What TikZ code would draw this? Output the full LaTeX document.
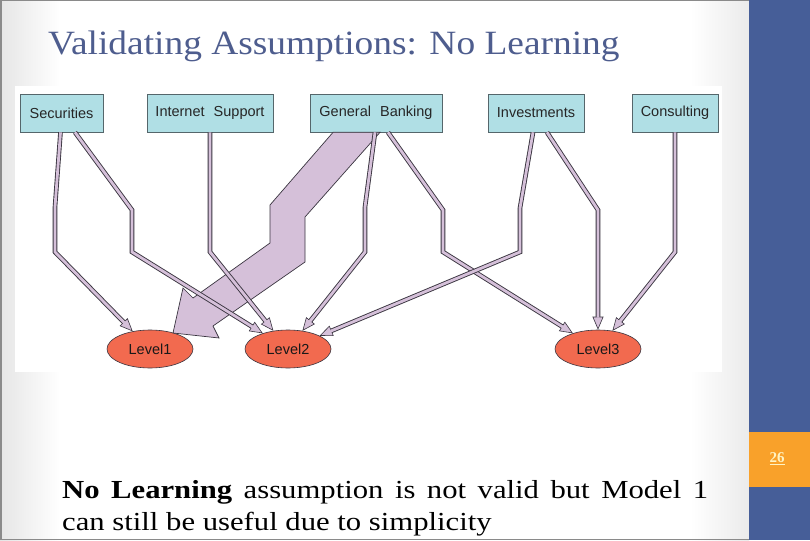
\documentclass[tikz,border=0pt]{standalone}
\usepackage{fontspec}
\setmainfont{Liberation Serif}
\newfontfamily\diagfont{Liberation Sans}
\newfontfamily\titlefont[FakeStretch=1.1]{Liberation Serif}
\newfontfamily\bodyfont[FakeStretch=1.18]{Liberation Serif}
\usetikzlibrary{shapes.geometric,arrows.meta,calc}
\definecolor{boxfill}{HTML}{B0DFE5}
\definecolor{boxline}{HTML}{55666B}
\definecolor{lvlfill}{HTML}{F26A4F}
\definecolor{lav}{HTML}{D5C0D9}
\definecolor{edgeline}{HTML}{3A3540}
\definecolor{barblue}{HTML}{465E98}
\definecolor{barorange}{HTML}{F9A12A}
\definecolor{titleblue}{HTML}{4E5D8E}
\definecolor{numcream}{HTML}{FFF3C4}
\definecolor{slideedge}{HTML}{8A8A8A}
\begin{document}
\begin{tikzpicture}[x=1pt,y=-1pt,
  catbox/.style={draw=boxline, line width=0.7pt, fill=boxfill, minimum height=38pt,
    inner sep=0pt, font=\diagfont\fontsize{14.5}{16}\selectfont, text=black!85},
  lvl/.style={ellipse, draw=edgeline, line width=0.6pt, fill=lvlfill, minimum width=86pt,
    minimum height=38pt, inner sep=0pt, font=\diagfont\fontsize{14.5}{16}\selectfont, text=black!90},
  tipstyle/.style={-{Triangle[length=13pt,width=11pt,line width=0.6pt,fill=lav]}},
  dbl/.style={draw=edgeline, line width=0.6pt, tipstyle, line join=miter,
    preaction={draw=edgeline, line width=4.6pt, -, shorten >=12pt},
    postaction={draw=lav, line width=2.8pt, -, shorten >=12pt}},
  widearrow/.style={fill=lav, draw=edgeline, line width=0.7pt, line join=miter}
]
\useasboundingbox (0,0) rectangle (810,540);
% slide background
\fill[white] (0,0) rectangle (749,540);
\shade[left color=black!10, right color=white] (0,0) rectangle (60,540);
\shade[left color=white, right color=black!8] (690,0) rectangle (749,540);
\fill[white] (15,86) rectangle (722,372);
\fill[slideedge] (0,0) rectangle (2,540);
\fill[slideedge] (0,0) rectangle (749,1.2);
\fill[slideedge] (0,538.5) rectangle (749,540);
% right bar
\fill[barblue] (749,0) rectangle (810,540);
\fill[barorange] (749,432) rectangle (810,487);
\node[font=\bfseries\fontsize{15}{17}\selectfont, text=numcream] (pnum) at (777,459) {\underline{26}};
% title
\node[anchor=base west, inner sep=0pt, font=\titlefont\fontsize{34}{40}\selectfont, text=titleblue] (title) at (48,55) {Validating Assumptions: No Learning};

% category boxes
\node[catbox, minimum width=83pt] (sec) at (61.5,113) {Securities};
\node[catbox, minimum width=126pt] (int) at (210,113) {Internet\hspace{0.35em} Support};
\node[catbox, minimum width=132pt] (gb) at (376,113) {General\hspace{0.35em} Banking};
\node[catbox, minimum width=96pt] (inv) at (536,113) {Investments};
\node[catbox, minimum width=86pt] (con) at (675,113) {Consulting};

% level ellipses
\node[lvl] (l1) at (150,349) {Level1};
\node[lvl] (l2) at (288,349) {Level2};
\node[lvl] (l3) at (598,349) {Level3};

% wide arrow General Banking -> Level1
\path[widearrow] ($(gb.south)+(-43,0)$) -- ($(gb.south)+(4,0)$) -- (305,217) -- (305,262)
  -- (213,326) -- (219,338) -- (173,333) -- (183,288) -- (193,298) -- (270,243) -- (270,205) -- cycle;

% thin double edges
\draw[dbl] ($(sec.south)+(-1,0)$) -- (55,207) -- (55,252) -- (l1);
\draw[dbl] ($(sec.south)+(13.5,0)$) -- (132,210) -- (132,252) -- (l2);
\draw[dbl] (int.south) -- (210,252) -- (l2);
\draw[dbl] ($(gb.south)+(-1,0)$) -- (365,207) -- (365,252) -- (l2);
\draw[dbl] ($(gb.south)+(12,0)$) -- (443,210) -- (443,252) -- (l3);
\draw[dbl] ($(inv.south)+(-3,0)$) -- (520,208) -- (520,252) -- (l2);
\draw[dbl] ($(inv.south)+(11,0)$) -- (598,210) -- (l3);
\draw[dbl] (con.south) -- (675,252) -- (l3);

% bottom text
\node[anchor=base west, inner sep=0pt, font=\bodyfont\fontsize{26}{32}\selectfont] (body1) at (62,498)
  {\makebox[646pt][s]{\textbf{No Learning} assumption is not valid but Model 1}};
\node[anchor=base west, inner sep=0pt, font=\bodyfont\fontsize{26}{32}\selectfont] (body2) at (62,530)
  {can still be useful due to simplicity};
\end{tikzpicture}
\end{document}
